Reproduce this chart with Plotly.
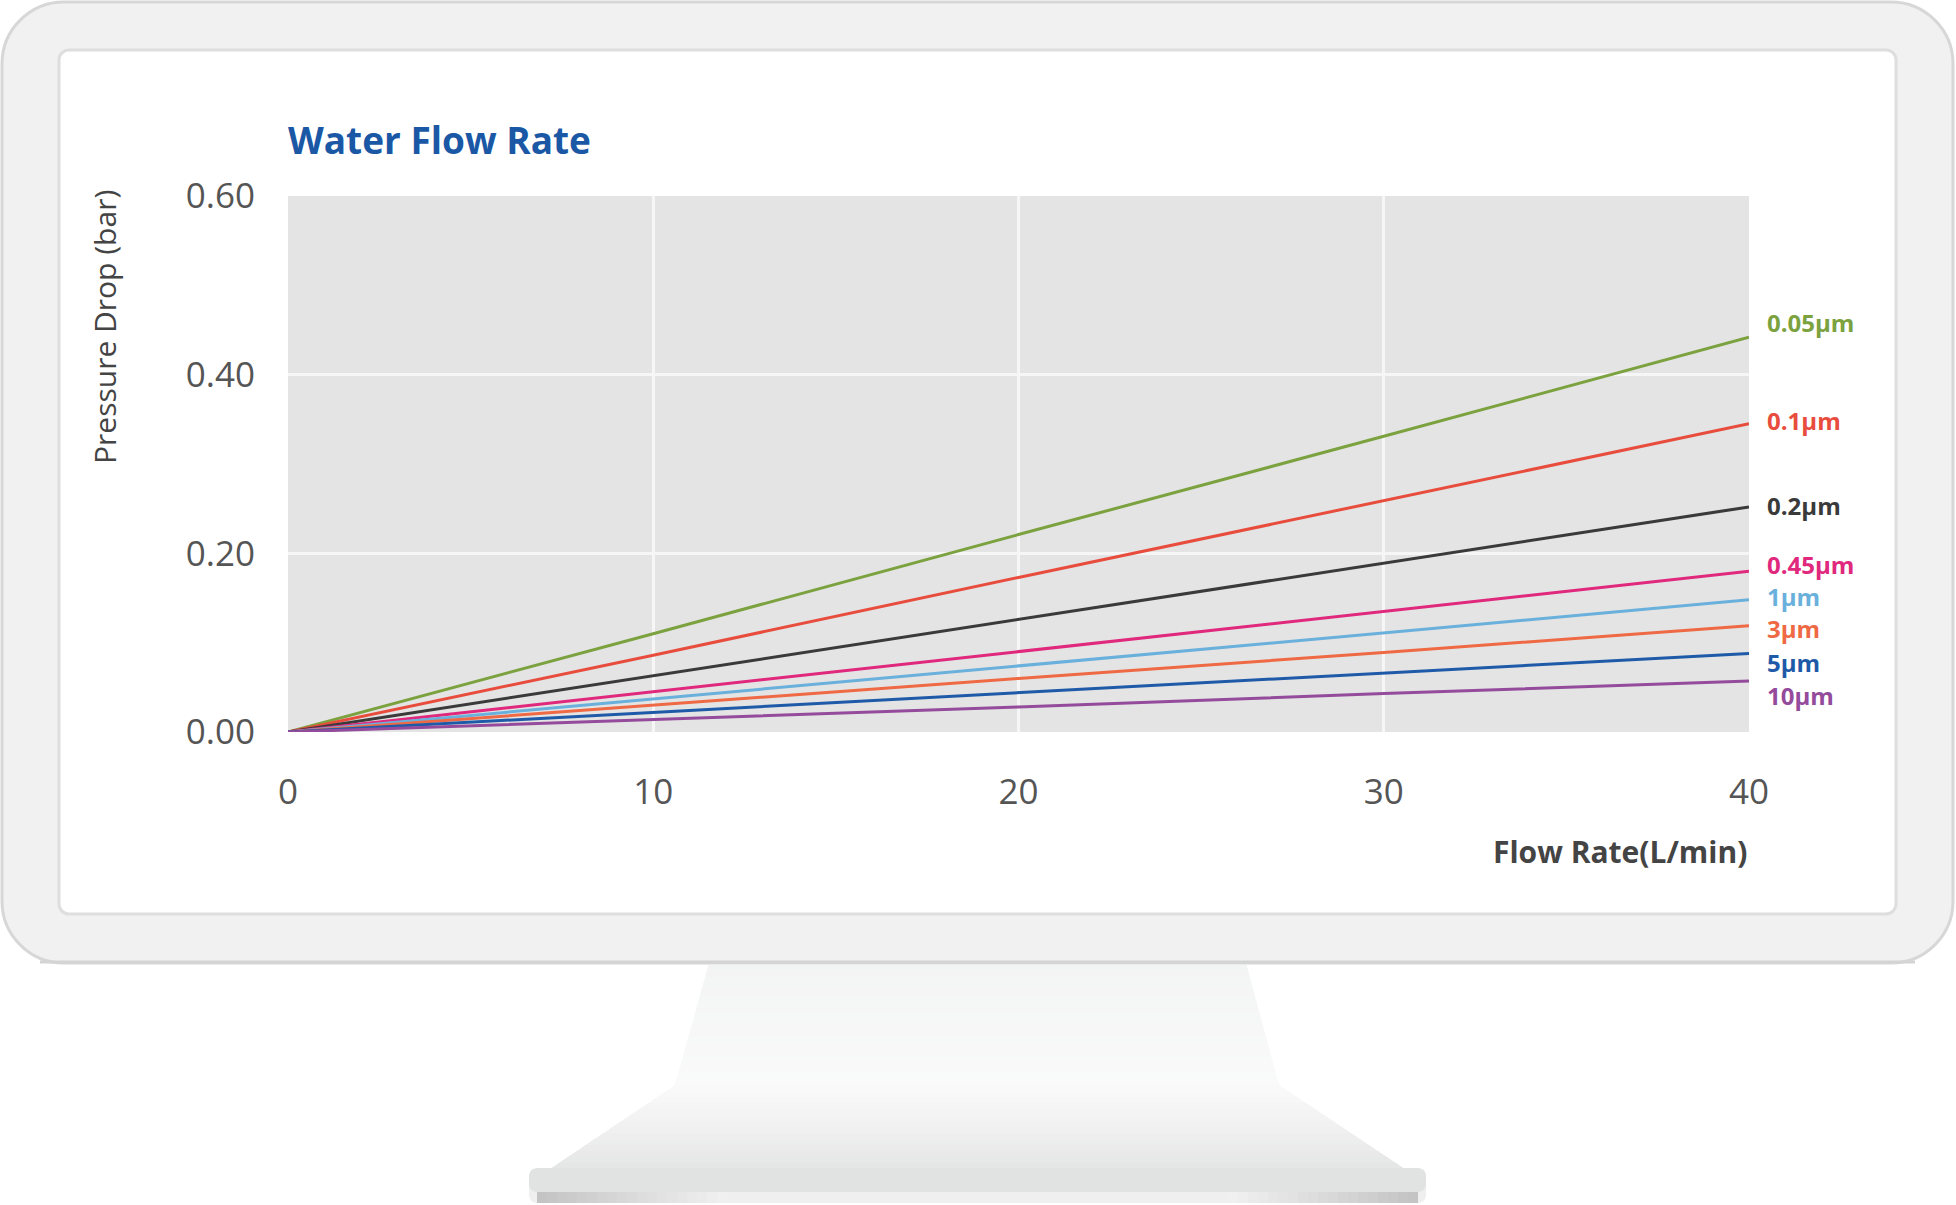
import plotly.graph_objects as go

# ---------------- data ----------------
flow_rate = [0, 10, 20, 30, 40]
series_names = ["0.05µm", "0.1µm", "0.2µm", "0.45µm", "1µm", "3µm", "5µm", "10µm"]
p_005 = [0, 0.110, 0.221, 0.331, 0.442]
p_01 = [0, 0.086, 0.173, 0.259, 0.345]
p_02 = [0, 0.063, 0.126, 0.189, 0.252]
p_045 = [0, 0.045, 0.090, 0.135, 0.180]
p_1 = [0, 0.037, 0.074, 0.111, 0.148]
p_3 = [0, 0.030, 0.060, 0.089, 0.119]
p_5 = [0, 0.022, 0.044, 0.066, 0.088]
p_10 = [0, 0.014, 0.028, 0.043, 0.057]
series_values = [p_005, p_01, p_02, p_045, p_1, p_3, p_5, p_10]
y_tick_vals = [0, 0.2, 0.4, 0.6]
y_tick_text = ["0.00", "0.20", "0.40", "0.60"]
x_tick_vals = [0, 10, 20, 30, 40]

# ---------------- styles / layout ----------------
colors = ["#7ba23f", "#e84c3d", "#3a3a3a", "#e0287d", "#6ab0dc", "#ee6944", "#1e5aa8", "#944b9c"]
label_y = [0.458, 0.349, 0.253, 0.188, 0.152, 0.116, 0.078, 0.041]

W, H = 1956, 1205
PL, PR, PT, PB = 288, 1749, 196, 732  # plot area in pixels


def px(x):
    return (x - PL) / (PR - PL)


def py(y):
    return (PB - y) / (PB - PT)


def pt(x, y):
    return f"{px(x):.5f},{py(y):.5f}"


def rrect(x0, y0, x1, y1, r):
    k = 0.5523 * r
    return (f"M{pt(x0 + r, y0)} L{pt(x1 - r, y0)} "
            f"C{pt(x1 - r + k, y0)} {pt(x1, y0 + r - k)} {pt(x1, y0 + r)} "
            f"L{pt(x1, y1 - r)} "
            f"C{pt(x1, y1 - r + k)} {pt(x1 - r + k, y1)} {pt(x1 - r, y1)} "
            f"L{pt(x0 + r, y1)} "
            f"C{pt(x0 + r - k, y1)} {pt(x0, y1 - r + k)} {pt(x0, y1 - r)} "
            f"L{pt(x0, y0 + r)} "
            f"C{pt(x0, y0 + r - k)} {pt(x0 + r - k, y0)} {pt(x0 + r, y0)} Z")


def poly(points):
    return "M" + " L".join(pt(x, y) for x, y in points) + " Z"


def lerp(a, b, t):
    return a + (b - a) * t


def mix(c0, c1, t):
    return "rgb(%d,%d,%d)" % tuple(round(lerp(a, b, t)) for a, b in zip(c0, c1))


shapes = []
# monitor body
shapes.append(dict(type="path", xref="paper", yref="paper", layer="below",
                   path=rrect(2, 2, 1953, 963, 62), fillcolor="#f1f1f1",
                   line=dict(color="#d7d7d7", width=3)))


# stand neck + base with vertical gradient slices
def side_x(y):
    if y <= 1085:
        t = (y - 963) / (1085 - 963)
        return lerp(709, 675, t), lerp(1246, 1279, t)
    t = (y - 1085) / (1183 - 1085)
    return lerp(675, 529, t), lerp(1279, 1426, t)


stops = [(965, (243, 244, 244)), (1085, (250, 250, 250)), (1130, (240, 240, 240)), (1183, (224, 225, 225))]


def stand_color(y):
    for (ya, ca), (yb, cb) in zip(stops[:-1], stops[1:]):
        if ya <= y <= yb:
            return mix(ca, cb, (y - ya) / (yb - ya))
    return mix(stops[-1][1], stops[-1][1], 0)


y = 965
step = 6
while y < 1183:
    y2 = min(y + step, 1183)
    yb = min(y2 + 1, 1183)
    la, ra = side_x(y)
    lb, rb = side_x(yb)
    shapes.append(dict(type="path", xref="paper", yref="paper", layer="below",
                       path=poly([(la, y), (ra, y), (rb, yb), (lb, yb)]),
                       fillcolor=stand_color((y + y2) / 2), line=dict(width=0)))
    y = y2

# base edge band with horizontal gradient
shapes.append(dict(type="path", xref="paper", yref="paper", layer="below",
                   path=rrect(529, 1176, 1426, 1203, 8), fillcolor="#efefef", line=dict(width=0)))
x = 537
while x < 720:
    t = (x - 537) / (720 - 537)
    c = mix((196, 196, 196), (241, 241, 241), t)
    shapes.append(dict(type="rect", xref="paper", yref="paper", layer="below",
                       x0=px(x), x1=px(x + 11), y0=py(1203), y1=py(1185), fillcolor=c, line=dict(width=0)))
    xr = 1418 - (x - 537)
    shapes.append(dict(type="rect", xref="paper", yref="paper", layer="below",
                       x0=px(xr - 11), x1=px(xr), y0=py(1203), y1=py(1185), fillcolor=c, line=dict(width=0)))
    x += 10
# base top surface (rounded) overlapping band top
shapes.append(dict(type="path", xref="paper", yref="paper", layer="below",
                   path=rrect(529, 1168, 1426, 1192, 8), fillcolor="rgb(225,226,226)", line=dict(width=0)))
# bottom edge shadow of monitor
shapes.append(dict(type="line", xref="paper", yref="paper", layer="below",
                   x0=px(40), x1=px(1915), y0=py(962), y1=py(962), line=dict(color="#d4d4d4", width=3)))

# screen
shapes.append(dict(type="path", xref="paper", yref="paper", layer="below",
                   path=rrect(59, 50, 1896, 914, 10), fillcolor="#ffffff",
                   line=dict(color="#dedede", width=3)))
# plot background
shapes.append(dict(type="rect", xref="paper", yref="paper", layer="below",
                   x0=0, x1=1, y0=0, y1=1, fillcolor="#e4e4e4", line=dict(width=0)))

fig = go.Figure()
for name, vals, col in zip(series_names, series_values, colors):
    fig.add_trace(go.Scatter(x=flow_rate, y=vals, mode="lines", name=name,
                             line=dict(color=col, width=3), showlegend=False))

annotations = []
for name, col, ly in zip(series_names, colors, label_y):
    annotations.append(dict(x=40, y=ly, xref="x", yref="y", text=name, showarrow=False,
                            xanchor="left", yanchor="middle", xshift=16,
                            font=dict(family="Open Sans", size=24, color=col, weight=700)))
annotations.append(dict(x=px(286), y=py(140), xref="paper", yref="paper", text="Water Flow Rate",
                        showarrow=False, xanchor="left", yanchor="middle",
                        font=dict(family="Open Sans", size=37, color="#1a58a6", weight=700)))
annotations.append(dict(x=1, y=py(851), xref="paper", yref="paper", text="Flow Rate(L/min)",
                        showarrow=False, xanchor="right", yanchor="middle",
                        font=dict(family="Open Sans", size=30, color="#444444", weight=700)))
annotations.append(dict(x=px(104), y=py(327), xref="paper", yref="paper", text="Pressure Drop (bar)",
                        showarrow=False, xanchor="center", yanchor="middle", textangle=-90,
                        font=dict(family="Open Sans", size=30, color="#444444")))

fig.update_layout(
    width=W, height=H,
    margin=dict(l=PL, r=W - PR, t=PT, b=H - PB, pad=0),
    paper_bgcolor="#ffffff", plot_bgcolor="#e4e4e4",
    shapes=shapes, annotations=annotations, showlegend=False,
)
fig.update_xaxes(range=[0, 40], tickvals=x_tick_vals, showgrid=True, gridcolor="#f6f6f6", gridwidth=3,
                 zeroline=False, showline=False, ticks="", ticklabelstandoff=36,
                 tickfont=dict(family="Open Sans", size=35, color="#555555"))
fig.update_yaxes(range=[0, 0.6], tickvals=y_tick_vals, ticktext=y_tick_text, showgrid=True,
                 gridcolor="#f6f6f6", gridwidth=3, zeroline=False, showline=False, ticks="",
                 ticklabelstandoff=32, tickfont=dict(family="Open Sans", size=35, color="#555555"))

fig.write_html("out.html", config={"displayModeBar": False},
               post_script="document.body.style.margin='0';document.body.style.overflow='hidden';")
